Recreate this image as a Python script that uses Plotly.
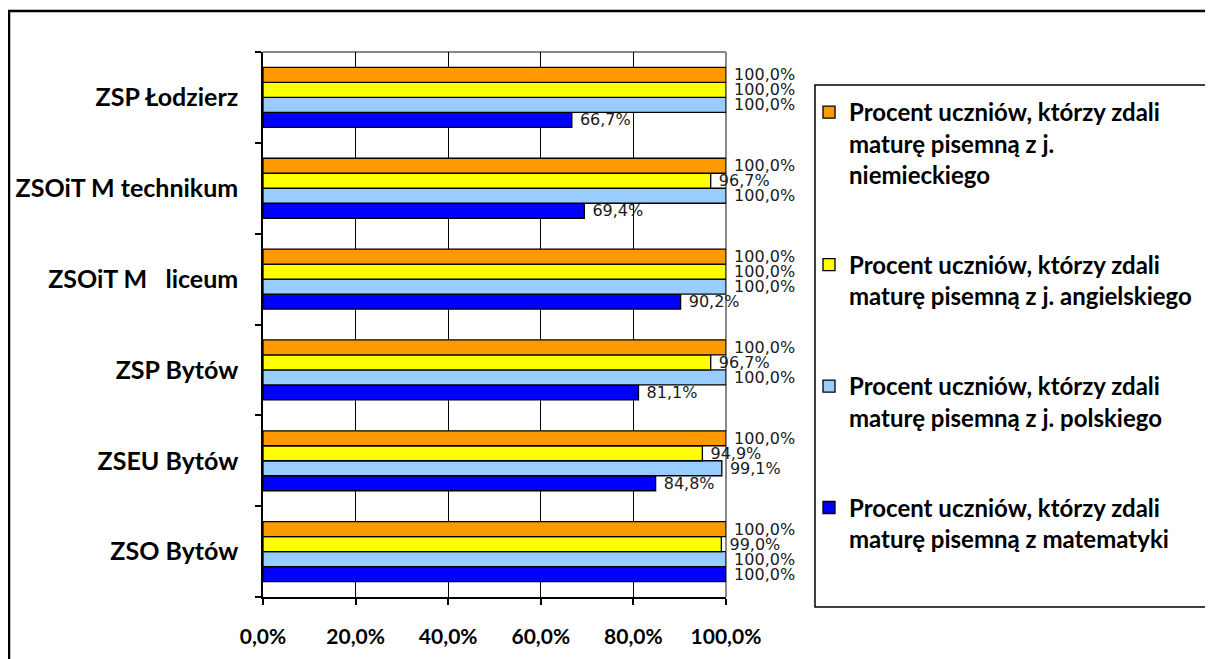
import plotly.graph_objects as go

# Categories listed bottom-to-top (Plotly categorical axis draws first at bottom)
schools = ["ZSO Bytów", "ZSEU Bytów", "ZSP Bytów", "ZSOiT M\u00a0\u00a0 liceum",
           "ZSOiT M technikum", "ZSP Łodzierz"]

matematyka = [100.0, 84.8, 81.1, 90.2, 69.4, 66.7]
polski = [100.0, 99.1, 100.0, 100.0, 100.0, 100.0]
angielski = [99.0, 94.9, 96.7, 100.0, 96.7, 100.0]
niemiecki = [100.0, 100.0, 100.0, 100.0, 100.0, 100.0]

series_names = [
    "Procent uczniów, którzy zdali<br>maturę pisemną z matematyki",
    "Procent uczniów, którzy zdali<br>maturę pisemną z j. polskiego",
    "Procent uczniów, którzy zdali<br>maturę pisemną z j. angielskiego",
    "Procent uczniów, którzy zdali<br>maturę pisemną z j.<br>niemieckiego",
]
series_values = [matematyka, polski, angielski, niemiecki]
series_colors = ["#0000FF", "#99CCFF", "#FFFF00", "#FF9900"]

x_ticks = [0, 20, 40, 60, 80, 100]
x_tick_labels = ["0,0%", "20,0%", "40,0%", "60,0%", "80,0%", "100,0%"]


def fmt(v):
    return "\u00a0" + f"{v:.1f}".replace(".", ",") + "%"


OFF = 8  # page body margin
W, H = 1213 - OFF, 659 - OFF
L, T = 263 - OFF, 52 - OFF
R = W - (726 - OFF)
B = H - (597 - OFF)
pw, ph = W - L - R, H - T - B


def px(x):  # page pixel -> paper
    return (x - OFF - L) / pw


def py(y):
    return (H - B - (y - OFF)) / ph


fig = go.Figure()
for i, (name, vals, col) in enumerate(zip(series_names, series_values, series_colors)):
    fig.add_trace(go.Bar(
        y=schools, x=vals, orientation="h", name=name,
        marker=dict(color=col, line=dict(color="black", width=1.3)),
        text=[fmt(v) for v in vals], textposition="outside",
        textfont=dict(family="DejaVu Sans", size=16, color="#1a1a1a"),
        cliponaxis=False, constraintext="none",
        legendgroup=f"g{i}", legendrank=1003 - i,
    ))

fig.update_layout(
    width=W, height=H,
    margin=dict(l=L, r=R, t=T, b=B, autoexpand=False),
    paper_bgcolor="white", plot_bgcolor="white",
    barmode="group", bargap=0.34, bargroupgap=0,
    showlegend=True,
    legend=dict(
        x=px(809), y=py(90), xanchor="left", yanchor="top",
        borderwidth=0, bgcolor="rgba(0,0,0,0)",
        font=dict(family="Lato", size=24, color="black", weight="bold"),
        traceorder="grouped", tracegroupgap=56, valign="top",
        itemwidth=30,
    ),
    xaxis=dict(
        range=[0, 100], tickvals=x_ticks, ticktext=x_tick_labels,
        showgrid=True, gridcolor="black", gridwidth=1,
        showline=True, linecolor="black", linewidth=1.5,
        ticks="outside", ticklen=6, tickcolor="black", tickwidth=1.5,
        tickfont=dict(family="Lato", size=21, color="black", weight="bold"),
        ticklabelstandoff=14, zeroline=False, fixedrange=True,
    ),
    yaxis=dict(
        showgrid=False, showline=True, linecolor="black", linewidth=1.5,
        ticks="outside", ticklen=6, tickcolor="black", tickwidth=1.5,
        tickson="boundaries",
        tickfont=dict(family="Lato", size=25, color="black", weight="bold"),
        ticklabelstandoff=18, fixedrange=True,
    ),
    shapes=[
        dict(type="line", xref="paper", yref="paper", x0=0, x1=1, y0=1, y1=1,
             line=dict(color="#888888", width=2), layer="between"),
        dict(type="line", xref="paper", yref="paper", x0=1, x1=1, y0=0, y1=1,
             line=dict(color="#888888", width=2), layer="between"),
        dict(type="rect", xref="paper", yref="paper",
             x0=px(9), x1=px(1235), y0=py(680), y1=py(11),
             line=dict(color="black", width=2.5), layer="below"),
        dict(type="rect", xref="paper", yref="paper",
             x0=px(815), x1=px(1207), y0=py(607), y1=py(85),
             line=dict(color="black", width=1.5), fillcolor="white",
             layer="below"),
    ],
)

fig.write_html("out.html")
